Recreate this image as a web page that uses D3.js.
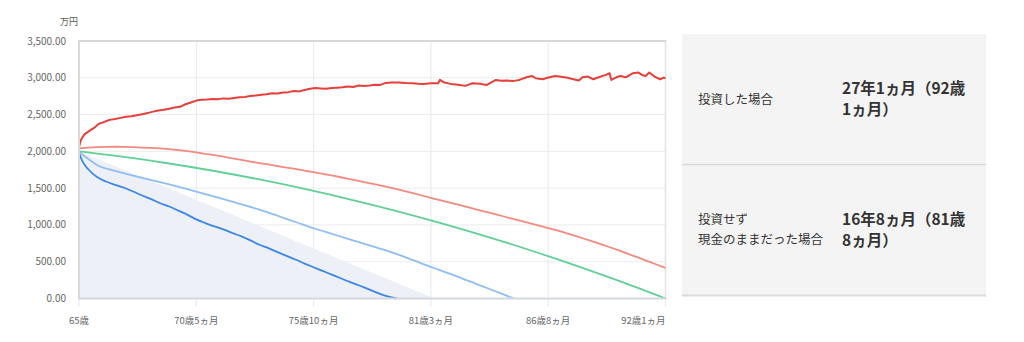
<!DOCTYPE html>
<html><head><meta charset="utf-8">
<script src="https://cdn.jsdelivr.net/npm/d3@7"></script>
<style>
html,body{margin:0;padding:0;background:#fff;}
svg{display:block;font-family:"Noto Sans CJK JP","Noto Sans",sans-serif;}
</style></head><body>
<svg id="c" width="1024" height="342"></svg>
<script>
// ---- data ----
const unitLabel = "万円";
const xTickMonths = [0, 65, 130, 195, 260, 325];
const xTickLabels = ["65歳", "70歳5ヵ月", "75歳10ヵ月", "81歳3ヵ月", "86歳8ヵ月", "92歳1ヵ月"];
const yTicks = [0, 500, 1000, 1500, 2000, 2500, 3000, 3500];

// cash only (shaded area)
const cashMonths = [0, 197];
const cashValues = [2000, 0];

// investment, upper scenario (dark red)
const redMonths = [0,1,2,3,5,7,9,11,13,15,17,20,23,26,29,32,35,38,41,44,47,50,53,56,59,62,65,68,71,74,77,80,83,86,89,92,95,98,101,104,107,110,113,116,119,122,125,128,131,134,137,140,143,146,149,152,155,158,161,164,167,170,173,177,181,185,188,191,195,199,200,202,206,210,214,218,222,226,231,234,237,241,244,248,251,253,257,260,264,267,270,274,277,279,282,285,288,292,294,295,298,300,303,307,310,312,314,316,319,322,324,325];
const redValues = [2060,2150,2195,2230,2265,2300,2330,2375,2390,2410,2428,2440,2455,2470,2478,2490,2505,2520,2540,2555,2565,2580,2595,2605,2640,2665,2690,2700,2705,2712,2708,2720,2715,2725,2735,2740,2754,2760,2770,2775,2790,2785,2800,2805,2820,2815,2835,2850,2860,2855,2850,2860,2865,2870,2880,2875,2895,2890,2895,2905,2903,2930,2935,2935,2928,2926,2920,2917,2926,2926,2971,2940,2917,2905,2890,2926,2920,2903,2971,2960,2962,2958,2971,3007,3025,2994,2980,3003,3025,3015,3003,2980,2962,3007,3016,2980,3007,3039,3062,2971,3010,3025,3007,3062,3071,3039,3025,3071,3016,2980,3003,2994];

// investment, middle scenario (salmon)
const salmonMonths = [0,5,10,15,20,25,30,35,40,45,50,55,60,65,70,75,80,85,90,95,100,105,110,115,120,125,130,135,140,145,150,155,160,165,170,175,180,185,190,195,200,205,210,215,220,225,230,235,240,245,250,255,260,265,270,275,280,285,290,295,300,305,310,315,320,325];
const salmonValues = [2040,2052,2058,2062,2063,2061,2058,2052,2046,2040,2030,2018,2002,1985,1965,1948,1928,1905,1885,1862,1841,1822,1800,1778,1762,1738,1718,1695,1672,1648,1622,1600,1572,1548,1520,1492,1462,1432,1400,1368,1338,1305,1275,1244,1212,1180,1150,1118,1085,1055,1022,990,958,925,888,850,812,772,732,690,648,600,555,508,462,416];

// fixed-rate scenario (green)
const greenMonths = [0,25,50,75,100,125,150,175,200,225,250,275,300,325];
const greenValues = [2000,1924,1835,1733,1618,1490,1349,1195,1028,849,656,451,232,0];

// investment, lower scenario (light blue)
const lightBlueMonths = [0,5,10,20,30,40,50,60,70,80,90,100,110,120,130,140,150,160,170,180,190,200,210,220,230,240,241];
const lightBlueValues = [1990,1900,1815,1735,1670,1610,1550,1487,1420,1350,1280,1207,1125,1040,955,880,805,730,655,570,475,385,295,200,105,10,0];

// investment, worst scenario (dark blue)
const blueMonths = [0,2,5,10,15,20,25,30,35,40,45,50,55,60,65,70,75,80,85,90,95,100,105,110,115,120,125,130,135,140,145,150,155,160,165,170,176];
const blueValues = [1975,1860,1760,1650,1590,1545,1505,1455,1400,1350,1295,1250,1195,1140,1075,1025,980,940,890,845,790,730,685,630,580,530,475,425,375,325,275,225,180,130,80,35,0];

// side panel
const panelLabels = [["投資した場合"], ["投資せず", "現金のままだった場合"]];
const panelResults = [["27年1ヵ月（92歳", "1ヵ月）"], ["16年8ヵ月（81歳", "8ヵ月）"]];

// ---- drawing ----
const svg = d3.select("#c");
const L = 79, R = 665.5, T = 41, B = 298.5;
const x = d3.scaleLinear().domain([0, 325]).range([L, R]);
const y = d3.scaleLinear().domain([0, 3500]).range([B, T]);

// horizontal grid
svg.append("g").selectAll("line").data(yTicks).join("line")
  .attr("x1", L).attr("x2", R).attr("y1", d => y(d)).attr("y2", d => y(d))
  .attr("stroke", "#ececec").attr("stroke-width", 1);
// vertical grid
svg.append("g").selectAll("line").data(xTickMonths).join("line")
  .attr("x1", d => x(d)).attr("x2", d => x(d)).attr("y1", T).attr("y2", B + 8)
  .attr("stroke", "#e6e9f0").attr("stroke-width", 1);

// frame
svg.append("line").attr("x1", L).attr("x2", R + 1).attr("y1", T).attr("y2", T).attr("stroke", "#d6d6d6").attr("stroke-width", 2);
svg.append("line").attr("x1", R).attr("x2", R).attr("y1", T).attr("y2", B).attr("stroke", "#e2e2e2").attr("stroke-width", 1.5);

// shaded area
const cashData = cashMonths.map((m, i) => [m, cashValues[i]]);
svg.append("path").datum(cashData)
  .attr("d", d3.area().x(d => x(d[0])).y0(y(0)).y1(d => y(d[1])))
  .attr("fill", "#edf0f6");

function drawLine(ms, vs, color, w, curve) {
  const data = ms.map((m, i) => [m, vs[i]]);
  svg.append("path").datum(data)
    .attr("d", d3.line().curve(curve).x(d => x(d[0])).y(d => y(d[1])))
    .attr("fill", "none").attr("stroke", color).attr("stroke-width", w)
    .attr("stroke-linejoin", "round");
}
drawLine(blueMonths, blueValues, "#3c87e6", 1.8, d3.curveMonotoneX);
drawLine(lightBlueMonths, lightBlueValues, "#8fbef4", 1.8, d3.curveMonotoneX);
drawLine(greenMonths, greenValues, "#62cf96", 1.8, d3.curveMonotoneX);
drawLine(salmonMonths, salmonValues, "#f28a80", 1.8, d3.curveLinear);
drawLine(redMonths, redValues, "#e5403a", 2, d3.curveLinear);

// axes lines
svg.append("line").attr("x1", L).attr("x2", L).attr("y1", T - 1).attr("y2", B).attr("stroke", "#d9d9d9").attr("stroke-width", 2);
svg.append("line").attr("x1", L - 1).attr("x2", R + 1).attr("y1", B).attr("y2", B).attr("stroke", "#d3d8e0").attr("stroke-width", 2);

// y labels
const fmt = d3.format(",.2f");
svg.append("g").selectAll("text").data(yTicks).join("text")
  .attr("x", 66).attr("y", d => y(d)).attr("dy", "0.35em")
  .attr("text-anchor", "end").attr("font-size", 10).attr("fill", "#666")
  .text(d => fmt(d));
svg.append("text").attr("x", 60).attr("y", 25).attr("font-size", 9).attr("fill", "#555").text(unitLabel);

// x labels
svg.append("g").selectAll("text").data(xTickMonths).join("text")
  .attr("x", (d, i) => i === xTickMonths.length - 1 ? R : x(d))
  .attr("y", 324)
  .attr("text-anchor", (d, i) => i === xTickMonths.length - 1 ? "end" : "middle")
  .attr("font-size", 9.5).attr("fill", "#666")
  .text((d, i) => xTickLabels[i]);

// side panel
const PX = 682, PW = 304;
const rows = [{y0: 34, y1: 164.5}, {y0: 164.5, y1: 295.5}];
svg.append("rect").attr("x", PX).attr("y", 34).attr("width", PW).attr("height", 261.5).attr("fill", "#f4f4f4");
svg.append("line").attr("x1", PX).attr("x2", PX + PW).attr("y1", 164.5).attr("y2", 164.5).attr("stroke", "#d8d8d8").attr("stroke-width", 1.5);
svg.append("line").attr("x1", PX).attr("x2", PX + PW).attr("y1", 295.5).attr("y2", 295.5).attr("stroke", "#dcdcdc").attr("stroke-width", 2);

rows.forEach((r, i) => {
  const cy = (r.y0 + r.y1) / 2;
  const lab = panelLabels[i], res = panelResults[i];
  const lh1 = 20;
  const t1 = svg.append("text").attr("font-size", 12.5).attr("fill", "#333");
  lab.forEach((s, k) => {
    t1.append("tspan").attr("x", 698)
      .attr("y", cy + (k - (lab.length - 1) / 2) * lh1).attr("dy", "0.35em").text(s);
  });
  const lh2 = 21.5;
  const t2 = svg.append("text").attr("font-size", 15.5).attr("font-weight", "bold").attr("fill", "#333");
  res.forEach((s, k) => {
    t2.append("tspan").attr("x", 842)
      .attr("y", cy + (k - (res.length - 1) / 2) * lh2).attr("dy", "0.35em").text(s);
  });
});
</script>
</body></html>
